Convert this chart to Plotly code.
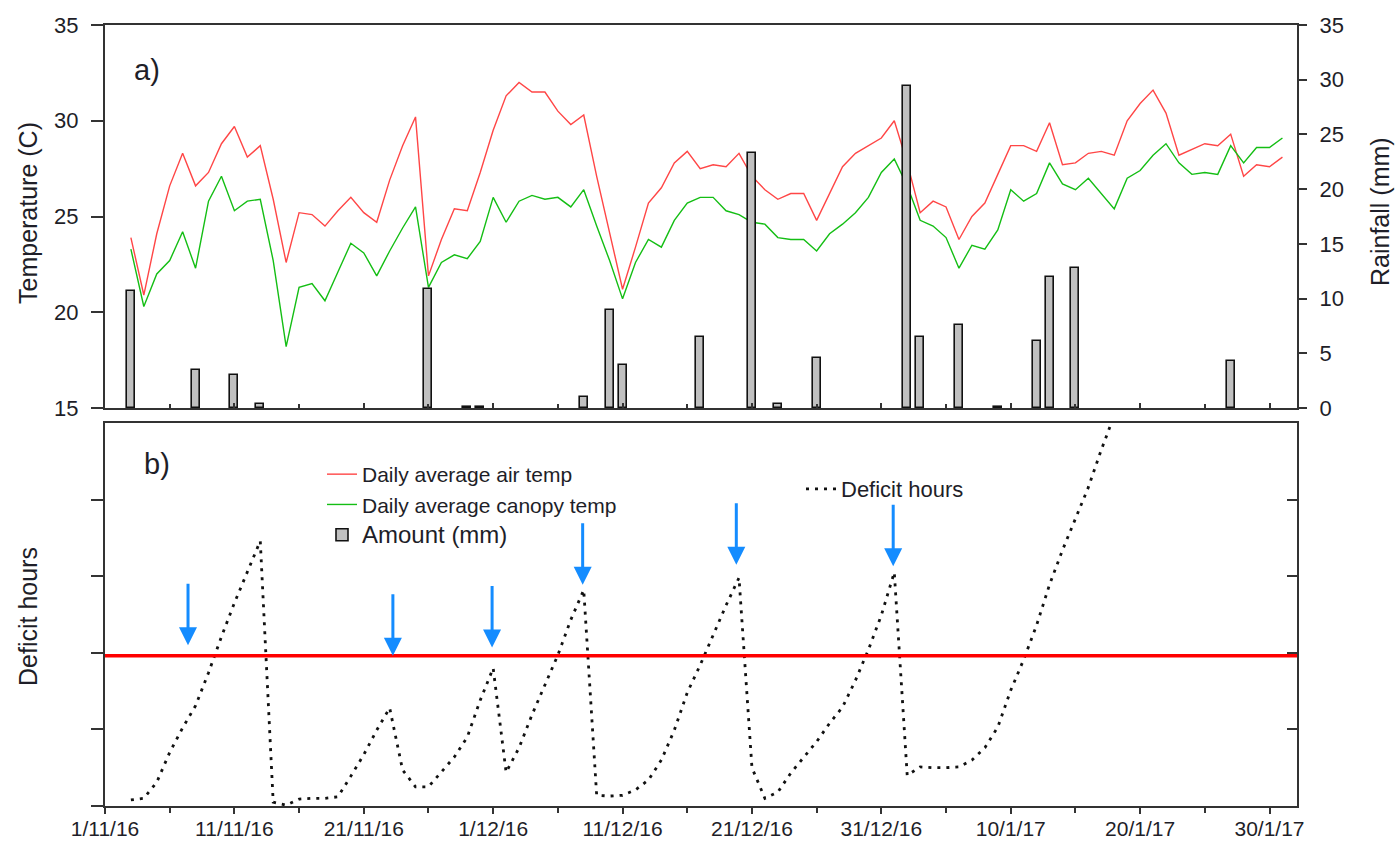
import plotly.graph_objects as go
import pandas as pd

# ---------------- data ----------------
temp_start = "2016-11-03"
air_temp = [23.9, 20.9, 24.1, 26.6, 28.3, 26.6, 27.3, 28.8, 29.7, 28.1, 28.7, 25.9, 22.6, 25.2, 25.1, 24.5,
            25.3, 26.0, 25.2, 24.7, 26.9, 28.7, 30.2, 21.9, 23.8, 25.4, 25.3, 27.3, 29.5, 31.3, 32.0, 31.5,
            31.5, 30.5, 29.8, 30.3, 27.1, 24.1, 21.2, 23.4, 25.7, 26.5, 27.8, 28.4, 27.5, 27.7, 27.6, 28.3,
            27.1, 26.4, 25.9, 26.2, 26.2, 24.8, 26.2, 27.6, 28.3, 28.7, 29.1, 30.0, 27.8, 25.2, 25.8, 25.5,
            23.8, 25.0, 25.7, 27.2, 28.7, 28.7, 28.4, 29.9, 27.7, 27.8, 28.3, 28.4, 28.2, 30.0, 30.9, 31.6,
            30.4, 28.2, 28.5, 28.8, 28.7, 29.3, 27.1, 27.7, 27.6, 28.1]
canopy_temp = [23.3, 20.3, 22.0, 22.7, 24.2, 22.3, 25.8, 27.1, 25.3, 25.8, 25.9, 22.7, 18.2, 21.3, 21.5, 20.6,
               22.1, 23.6, 23.1, 21.9, 23.2, 24.4, 25.5, 21.3, 22.6, 23.0, 22.8, 23.7, 26.0, 24.7, 25.8, 26.1,
               25.9, 26.0, 25.5, 26.4, 24.5, 22.7, 20.7, 22.6, 23.8, 23.4, 24.8, 25.7, 26.0, 26.0, 25.3, 25.1,
               24.7, 24.6, 23.9, 23.8, 23.8, 23.2, 24.1, 24.6, 25.2, 26.0, 27.3, 28.0, 26.6, 24.8, 24.5, 23.9,
               22.3, 23.5, 23.3, 24.3, 26.4, 25.8, 26.2, 27.8, 26.7, 26.4, 27.0, 26.2, 25.4, 27.0, 27.4, 28.2,
               28.8, 27.8, 27.2, 27.3, 27.2, 28.7, 27.8, 28.6, 28.6, 29.1]

rain_dates = ["2016-11-03", "2016-11-08", "2016-11-11", "2016-11-13", "2016-11-26", "2016-11-29",
              "2016-11-30", "2016-12-08", "2016-12-10", "2016-12-11", "2016-12-17", "2016-12-21",
              "2016-12-23", "2016-12-26", "2017-01-02", "2017-01-03", "2017-01-06", "2017-01-09",
              "2017-01-12", "2017-01-13", "2017-01-15", "2017-01-27"]
rain_mm = [10.7, 3.5, 3.0, 0.4, 10.9, 0.1, 0.1, 1.0, 9.0, 3.9, 6.5, 23.3, 0.4, 4.6, 29.4, 6.5, 7.6, 0.1,
           6.1, 12.0, 12.8, 4.3]

deficit_start = "2016-11-03"
deficit_hours = [0.08, 0.10, 0.31, 0.70, 1.02, 1.31, 1.74, 2.21, 2.65, 3.05, 3.46,
                 0.05, 0.01, 0.09, 0.10, 0.10, 0.12, 0.39, 0.67, 0.99, 1.28,
                 0.47, 0.25, 0.25, 0.44, 0.64, 0.90, 1.38, 1.80,
                 0.44, 0.76, 1.19, 1.58, 1.97, 2.43, 2.82,
                 0.14, 0.13, 0.14, 0.21, 0.34, 0.60, 0.99, 1.48, 1.84, 2.23, 2.62, 2.98,
                 0.50, 0.10, 0.18, 0.43, 0.64, 0.84, 1.08, 1.29, 1.64, 2.04, 2.49, 3.05,
                 0.40, 0.51, 0.50, 0.50, 0.51, 0.60, 0.76, 1.03, 1.51, 1.91, 2.36, 2.89, 3.34, 3.76,
                 4.16, 4.65, 5.10]
deficit_threshold = 1.96

irrigation_dates = ["2016-11-07 10:00", "2016-11-23 06:00", "2016-11-30 22:00",
                    "2016-12-07 22:00", "2016-12-19 19:00", "2016-12-31 22:00"]
irrigation_levels = [2.10, 1.96, 2.07, 2.89, 3.15, 3.13]

tick_dates = ["2016-11-01", "2016-11-11", "2016-11-21", "2016-12-01", "2016-12-11", "2016-12-21",
              "2016-12-31", "2017-01-10", "2017-01-20", "2017-01-30"]
tick_labels = ["1/11/16", "11/11/16", "21/11/16", "1/12/16", "11/12/16", "21/12/16",
               "31/12/16", "10/1/17", "20/1/17", "30/1/17"]
x_range = ["2016-11-01", "2017-02-01 03:00"]

temp_dates = pd.date_range(temp_start, periods=len(air_temp), freq="D")
deficit_dates = pd.date_range(deficit_start, periods=len(deficit_hours), freq="D")

# ---------------- figure ----------------
FONT = "Liberation Sans, Arial, sans-serif"
TXT = "#1e1e28"
AX = "#333333"
DAY_MS = 86400000

fig = go.Figure()

fig.add_trace(go.Scatter(x=temp_dates, y=air_temp, mode="lines", name="Daily average air temp",
                         line=dict(color="rgb(255,70,70)", width=1.4), xaxis="x", yaxis="y",
                         legend="legend"))
fig.add_trace(go.Scatter(x=temp_dates, y=canopy_temp, mode="lines", name="Daily average canopy temp",
                         line=dict(color="rgb(20,190,20)", width=1.4), xaxis="x", yaxis="y",
                         legend="legend"))
fig.add_trace(go.Bar(x=pd.to_datetime(rain_dates), y=rain_mm, width=0.62 * DAY_MS,
                     name='<span style="font-size:24px">Amount (mm)</span>',
                     marker=dict(color="#c0c0c0", line=dict(color="#111111", width=1.6)),
                     xaxis="x", yaxis="y3", legend="legend"))

fig.add_trace(go.Scatter(x=x_range, y=[deficit_threshold, deficit_threshold], mode="lines",
                         line=dict(color="#ff0000", width=3.5), showlegend=False, hoverinfo="skip",
                         xaxis="x2", yaxis="y4"))
fig.add_trace(go.Scatter(x=deficit_dates, y=deficit_hours, mode="lines", name="Deficit hours",
                         line=dict(color="#111111", width=2.8, dash="3px,6px"),
                         xaxis="x2", yaxis="y2", legend="legend2"))

annotations = []
for d, lv in zip(irrigation_dates, irrigation_levels):
    annotations.append(dict(x=d, y=lv, xref="x2", yref="y2", showarrow=True, ax=0, ay=-63,
                            axref="pixel", ayref="pixel", arrowhead=2, arrowsize=1.2,
                            arrowwidth=3, arrowcolor="rgb(20,140,255)", text=""))

W0, W = 105, 1192
def px_x(p):
    return (p - W0) / W
def px_y(p):
    return (806 - p) / 781

def label(text, x, y, size, angle=0):
    return dict(text=text, x=px_x(x), y=px_y(y), xref="paper", yref="paper", showarrow=False,
                xanchor="center", yanchor="middle", textangle=angle,
                font=dict(size=size, color=TXT, family=FONT))

annotations += [
    label("a)", 147, 70, 29),
    label("b)", 157, 464, 29),
    label("Temperature (C)", 28, 213, 25, -90),
    label("Rainfall (mm)", 1380, 212, 25, -90),
    label("Deficit hours", 28, 617, 25, -90),
]

xcommon = dict(type="date", range=x_range, tickvals=tick_dates, showgrid=False, zeroline=False,
               showline=True, linecolor=AX, linewidth=2, mirror=True, tickcolor=AX,
               automargin=False, tickfont=dict(size=21, color=TXT, family=FONT))
ycommon = dict(showgrid=False, zeroline=False, automargin=False, tickcolor=AX, tickwidth=1.5)

fig.update_layout(
    width=1397, height=843,
    margin=dict(l=105, r=100, t=25, b=37, autoexpand=False),
    paper_bgcolor="white", plot_bgcolor="white",
    font=dict(family=FONT, color=TXT),
    bargap=0,
    xaxis=dict(**xcommon, anchor="y", domain=[0, 1], showticklabels=False,
               ticks="inside", ticklen=5, tickwidth=1.5,
               minor=dict(dtick=5 * DAY_MS, tick0="2016-11-01", ticks="inside", ticklen=4,
                          tickcolor=AX, tickwidth=1.5)),
    xaxis2=dict(**xcommon, anchor="y2", domain=[0, 1], ticktext=tick_labels,
                ticks="outside", ticklen=6, tickwidth=1.5, ticklabelstandoff=-3,
                minor=dict(dtick=5 * DAY_MS, tick0="2016-11-01", ticks="outside", ticklen=5,
                           tickcolor=AX, tickwidth=1.5)),
    yaxis=dict(**ycommon, domain=[px_y(408), 1], range=[15, 35], dtick=5, anchor="x",
               ticks="outside", ticklen=12, showline=True, linecolor=AX, linewidth=2,
               ticklabelstandoff=8, tickfont=dict(size=22, color=TXT, family=FONT)),
    yaxis3=dict(**ycommon, overlaying="y", side="right", anchor="x", range=[0, 35], dtick=5,
                ticks="outside", ticklen=8, showline=True, linecolor=AX, linewidth=2,
                ticklabelstandoff=8, tickfont=dict(size=22, color=TXT, family=FONT)),
    yaxis2=dict(**ycommon, domain=[0, px_y(423)], range=[0, 5], tickvals=[0, 1, 2, 3, 4],
                anchor="x2", ticks="outside", ticklen=12, showticklabels=False,
                showline=True, linecolor=AX, linewidth=2, mirror=True),
    yaxis4=dict(**ycommon, overlaying="y2", side="right", anchor="x2", range=[0, 5],
                tickvals=[1, 2, 3, 4], ticks="inside", ticklen=10, showticklabels=False,
                showline=False),
    legend=dict(x=px_x(322), y=px_y(454), xanchor="left", yanchor="top", bgcolor="rgba(0,0,0,0)",
                font=dict(size=21, color=TXT, family=FONT), tracegroupgap=0),
    legend2=dict(x=px_x(801), y=px_y(468), xanchor="left", yanchor="top",
                 bgcolor="rgba(0,0,0,0)", font=dict(size=22, color=TXT, family=FONT)),
    annotations=annotations,
    showlegend=True,
)

fig.write_html("out.html")
